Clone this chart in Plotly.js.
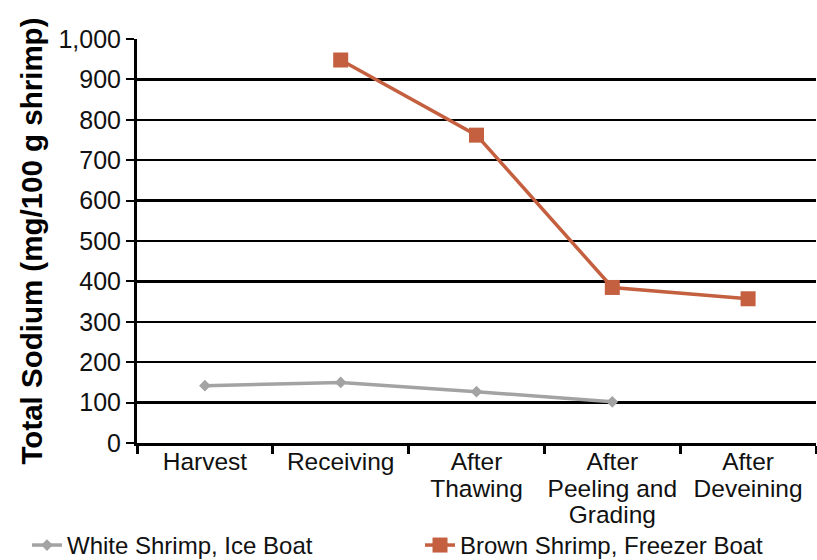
<!DOCTYPE html>
<html><head><meta charset="utf-8">
<script src="https://cdn.plot.ly/plotly-3.0.1.min.js"></script>
<style>html,body{margin:0;padding:0;background:#fff;}#chart{width:817px;height:560px;}</style>
</head><body><div id="chart"></div>
<script>
const categories = ["Harvest", "Receiving", "After<br>Thawing", "After<br>Peeling and<br>Grading", "After<br>Deveining"];
const whiteShrimp = [142, 150, 127, 102, null];
const brownShrimp = [null, 948, 762, 385, 357];
const yTicks = [0, 100, 200, 300, 400, 500, 600, 700, 800, 900, 1000];

const traces = [
  {x: categories, y: whiteShrimp, name: "White Shrimp, Ice Boat", type: "scatter", mode: "lines+markers",
   legend: "legend",
   line: {color: "#a3a3a3", width: 3.5}, marker: {symbol: "diamond", size: 9, color: "#a3a3a3"}},
  {x: categories, y: brownShrimp, name: "Brown Shrimp, Freezer Boat", type: "scatter", mode: "lines+markers",
   legend: "legend2",
   line: {color: "#c4603f", width: 3.5}, marker: {symbol: "square", size: 15, color: "#c4603f"}}
];

const legendCommon = {orientation: "h", xref: "paper", yref: "container", y: 0.026,
                      xanchor: "left", yanchor: "middle", bgcolor: "rgba(0,0,0,0)",
                      font: {size: 24, color: "#111"}};

const layout = {
  width: 817, height: 560,
  margin: {l: 137, r: 1, t: 39, b: 117},
  paper_bgcolor: "#fff", plot_bgcolor: "#fff",
  font: {family: "Liberation Sans, Arial, sans-serif", color: "#111", size: 24},
  showlegend: true,
  legend: Object.assign({}, legendCommon, {x: -0.162}),
  legend2: Object.assign({}, legendCommon, {x: 0.4168}),
  xaxis: {type: "category", showline: true, linecolor: "#000", linewidth: 3, automargin: false,
          ticks: "outside", tickson: "boundaries", ticklen: 8, tickwidth: 3, tickcolor: "#000",
          ticklabelstandoff: -5,
          tickangle: 0, showgrid: false, tickfont: {size: 24.5, color: "#111"}, range: [-0.5, 4.5], fixedrange: true},
  yaxis: {range: [0, 1000], tickvals: yTicks, tickformat: ",", showline: true, linecolor: "#000", linewidth: 3,
          automargin: false,
          ticks: "outside", ticklen: 8, tickwidth: 2, tickcolor: "#000",
          gridcolor: "#000", gridwidth: 2.5, zeroline: false,
          tickfont: {size: 25, color: "#111"},
          title: {text: "<b>Total Sodium (mg/100 g shrimp)</b>", font: {size: 29.5, color: "#000"}, standoff: 8}}
};
Plotly.newPlot("chart", traces, layout, {displayModeBar: false, staticPlot: true}).then(function () {
  document.querySelectorAll(".xtick text tspan.line").forEach(function (t) {
    const dy = parseFloat(t.getAttribute("dy"));
    if (dy > 0) t.setAttribute("dy", (dy / 1.3 * 1.08).toFixed(3) + "em");
  });
});
</script></body></html>
